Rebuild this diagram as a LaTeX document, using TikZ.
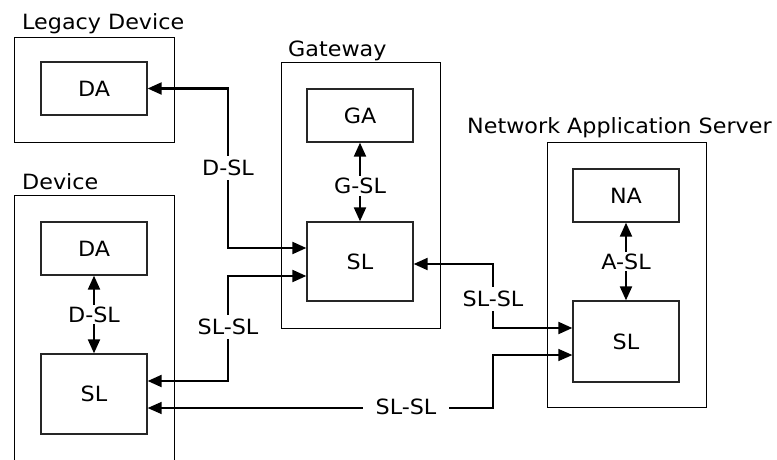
\documentclass[tikz,border=0pt]{standalone}
\usepackage{fontspec}
\setmainfont{DejaVu Sans}[FakeStretch=1.06]
\usetikzlibrary{arrows.meta,calc}
\begin{document}
\begin{tikzpicture}[x=1pt,y=-1pt,
  outerbox/.style={draw=black,line width=1pt,rectangle,inner sep=0pt,minimum width=#1},
  innerbox/.style={draw=black!85,line width=1.3pt,rectangle,inner sep=0pt,minimum width=106pt,font=\fontsize{21}{24}\selectfont},
  title/.style={anchor=base west,inner sep=0pt,font=\fontsize{21}{24}\selectfont},
  lbl/.style={fill=white,inner xsep=2pt,inner ysep=4pt,font=\fontsize{21}{24}\selectfont},
  conn/.style={line width=2.1pt,{Triangle[length=14pt,width=12pt]}-{Triangle[length=14pt,width=12pt]}},
  thinconn/.style={line width=1.4pt,{Triangle[length=14pt,width=12pt]}-{Triangle[length=14pt,width=12pt]}},
  vconn/.style={line width=2.1pt,{Triangle[length=14pt,width=12pt]}-{Triangle[length=14pt,width=12pt]}}
]
\useasboundingbox (0,0) rectangle (777,459);
% outer boxes
\node[outerbox=160pt,minimum height=105pt] (leg) at (94,89.5) {};
\node[outerbox=160pt,minimum height=275pt] (dev) at (94,332.5) {};
\node[outerbox=159pt,minimum height=266pt] (gw) at (360.5,195) {};
\node[outerbox=159pt,minimum height=265pt] (nas) at (626.5,274.5) {};
% titles
\node[title] (tleg) at (22,29) {Legacy Device};
\node[title] (tdev) at (22,189) {Device};
\node[title] (tgw) at (288,56) {Gateway};
\node[title] (tnas) at (467,133) {Network Application Server};
% inner boxes
\node[innerbox,minimum height=53pt] (lda) at (94,88.5) {DA};
\node[innerbox,minimum height=53pt] (dda) at (94,248.5) {DA};
\node[innerbox,minimum height=80pt] (dsl) at (94,394) {SL};
\node[innerbox,minimum height=53pt] (ga) at (360,115.5) {GA};
\node[innerbox,minimum height=79pt] (gwsl) at (360,261.5) {SL};
\node[innerbox,minimum height=53pt] (na) at (626,195.5) {NA};
\node[innerbox,minimum height=81pt] (nsl) at (626,341.5) {SL};
% internal connectors
\draw[vconn] (dda.south) -- (dsl.north) node[lbl,midway,inner ysep=2pt] {D-SL};
\draw[vconn] (ga.south) -- (gwsl.north) node[lbl,pos=0.55,inner ysep=2pt] {G-SL};
\draw[vconn] (na.south) -- (nsl.north) node[lbl,midway,inner ysep=2pt] {A-SL};
% external connectors
\coordinate (c1) at (228,248);
\draw[conn] (lda.east) -| (c1) -- (c1 -| gwsl.west);
\node[lbl] (l1) at (228,168) {D-SL};
\coordinate (c2) at (228,276);
\draw[conn] ([yshift=13pt]dsl.east) -| (c2) -- (c2 -| gwsl.west);
\node[lbl] (l2) at (228,327) {SL-SL};
\coordinate (c3) at (493,264);
\draw[conn] (c3 -| gwsl.east) -- (c3) |- ([yshift=13.5pt]nsl.west);
\node[lbl] (l3) at (493,299) {SL-SL};
\coordinate (c4) at (493,355);
\draw[thinconn] ([yshift=-14pt]dsl.east) -| (c4) -- (c4 -| nsl.west);
\node[lbl,inner xsep=13pt] (l4) at (406,407) {SL-SL};
\end{tikzpicture}
\end{document}
